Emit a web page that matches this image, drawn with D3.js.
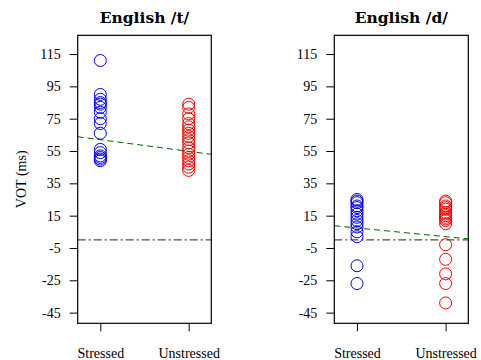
<!DOCTYPE html>
<html>
<head>
<meta charset="utf-8" />
<title>English VOT</title>
<style>
html, body { margin: 0; padding: 0; background: #fff; }
svg { display: block; }
text { font-family: "Liberation Serif", serif; fill: #000; }
</style>
</head>
<body>
<svg width="481" height="360"></svg>
<script src="https://cdn.jsdelivr.net/npm/d3@7/dist/d3.min.js"></script>
<script>
// categories and tick labels
var categories = ["Stressed", "Unstressed"];
var yTicks = [115, 95, 75, 55, 35, 15, -5, -25, -45];
var titles = ["English /t/", "English /d/"];

// VOT values (ms)
var tStressed = [111, 90, 87, 85, 84, 82, 79, 75, 72, 66, 56, 54, 52, 51, 50, 49];
var tUnstressed = [84, 82, 78, 75, 72, 70, 68, 66, 64, 62, 60, 57, 55, 53, 51, 49, 47, 45, 43];
var dStressed = [25, 24, 23, 21, 20, 18, 16, 14, 12, 10, 8, 5, 2, -16, -27];
var dUnstressed = [24, 23, 21, 20, 19, 17, 16, 15, 14, 13, 12, 10, -3, -12, -21, -27, -39];

// fitted lines: [intercept, slope] with x coded 1 = Stressed, 2 = Unstressed
var tFit = [69.2, -7.2];
var dFit = [12.8, -5.4];

var svg = d3.select("svg");

// R style: limits padded by 4%
var y = d3.scaleLinear().domain([-51.6, 126.6]).range([323.3, 35.3]);

function panel(left, right, title, stressed, unstressed, fit, yLabel) {
	var x = d3.scaleLinear().domain([0.744, 2.256]).range([left, right]);
	var g = svg.append("g");

	// zero reference line
	g.append("line")
		.attr("x1", x(0.744)).attr("x2", x(2.256))
		.attr("y1", y(0)).attr("y2", y(0))
		.attr("stroke", "#222").attr("stroke-width", 1)
		.attr("stroke-dasharray", "8,3,2,3");

	// regression line
	g.append("line")
		.attr("x1", x(0.744)).attr("x2", x(2.256))
		.attr("y1", y(fit[0] + fit[1] * 0.744)).attr("y2", y(fit[0] + fit[1] * 2.256))
		.attr("stroke", "#006400").attr("stroke-width", 1)
		.attr("stroke-dasharray", "6,4");

	g.selectAll(".s").data(stressed).enter().append("circle")
		.attr("cx", x(1)).attr("cy", function(d){ return y(d); })
		.attr("r", 6).attr("fill", "none").attr("stroke", "blue").attr("stroke-width", 1);

	g.selectAll(".u").data(unstressed).enter().append("circle")
		.attr("cx", x(2)).attr("cy", function(d){ return y(d); })
		.attr("r", 6).attr("fill", "none").attr("stroke", "red").attr("stroke-width", 1);

	// box
	g.append("rect")
		.attr("x", left).attr("y", 35.3)
		.attr("width", right - left).attr("height", 323.3 - 35.3)
		.attr("fill", "none").attr("stroke", "#000").attr("stroke-width", 1.2);

	// y axis
	var ya = g.append("g").attr("transform", "translate(" + left + ",0)")
		.call(d3.axisLeft(y).tickValues(yTicks).tickSize(8).tickPadding(9)
			.tickFormat(function(d){ return String(d); }));
	ya.select(".domain").remove();
	ya.selectAll("text").style("font-size", "14px").style("font-family", "Liberation Serif, serif");

	// x axis
	var xa = g.append("g").attr("transform", "translate(0,323.3)")
		.call(d3.axisBottom(x).tickValues([1, 2]).tickSize(8).tickPadding(16.5)
			.tickFormat(function(d){ return categories[d - 1]; }));
	xa.select(".domain").remove();
	xa.selectAll("text").style("font-size", "14px").style("font-family", "Liberation Serif, serif");

	g.append("text")
		.attr("x", (left + right) / 2).attr("y", 23)
		.attr("text-anchor", "middle")
		.style("font-family", "DejaVu Serif, serif")
		.style("font-size", "15.5px").style("font-weight", "bold")
		.text(title);

	if (yLabel) {
		g.append("text")
			.attr("transform", "translate(26," + ((35.3 + 323.3) / 2) + ") rotate(-90)")
			.attr("text-anchor", "middle")
			.style("font-size", "14px")
			.text(yLabel);
	}
}

panel(77.7, 211.3, titles[0], tStressed, tUnstressed, tFit, "VOT (ms)");
panel(334.3, 468.3, titles[1], dStressed, dUnstressed, dFit, null);
</script>
</body>
</html>
